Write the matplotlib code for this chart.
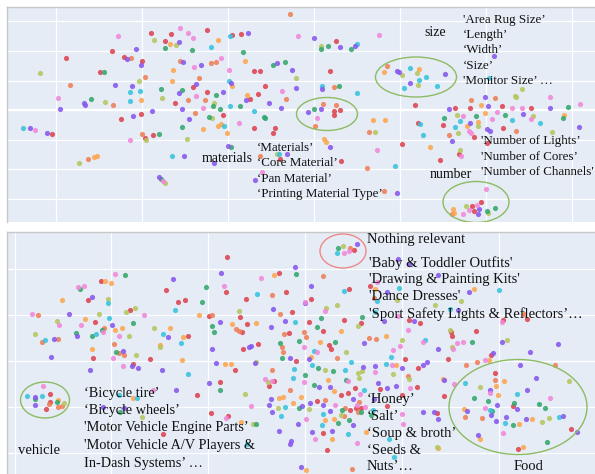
import matplotlib.pyplot as plt
from matplotlib.patches import Ellipse
from matplotlib.ticker import MultipleLocator

# embedding coordinates, one list per colour group

# ---- upper panel ----
top_red = [(9, 77), (29, 76), (65, 80), (23, 69), (90, 75), (99, 76), (-30, 59), (-76, 52), (-18, 53), (0, 49),
           (-42, 38), (112, 39), (118, 39), (51, 23), (65, 18), (123, 24), (116, 16), (33, 7), (108, 11), (-1, -4),
           (-21, -9), (81, -5), (-90, -24), (112, -18), (133, -18), (131, -23), (3, -28), (11, -25), (138, -49),
           (194, 69), (188, 39), (273, 5), (276, -13), (192, -1), (192, -5), (198, 0), (260, -34), (199, -51),
           (389, 2), (360, 4), (328, 2), (313, 2), (301, -15), (361, -18), (332, -27), (345, -33), (317, -44),
           (298, -50), (330, -96), (332, -101), (339, -92)]
top_coral = [(148, 96), (-11, 52), (38, 49), (74, 48), (69, 47), (3, 33), (57, 32), (-72, 25), (-29, 5), (46, 10),
             (63, 10), (144, 11), (53, -3), (0, -24), (-54, -49), (118, -46), (192, 23), (245, 44), (181, 6),
             (194, 5), (173, -16), (227, -22), (225, -58), (242, -81), (353, 12), (329, 10), (374, -21),
             (307, -25), (310, -104)]
top_orange = [(28, 66), (76, 70), (103, 49), (31, 40), (30, 29), (90, 24), (-1, 10), (105, 15), (61, -19), (76, -16),
              (79, -14), (85, -23), (-48, -47), (-45, -46), (242, 38), (277, 41), (231, -10), (243, -10), (182, -29),
              (184, -32), (288, -37), (339, 5), (343, -3), (422, -5), (336, -12), (325, -16), (311, -99), (312, -103)]
top_olive = [(12, 70), (34, 65), (-102, 37), (154, 32), (-3, 29), (-37, 8), (20, 12), (72, 7), (70, -8), (4, -30),
             (45, -29), (-63, -53), (23, -73), (135, -44), (179, 64), (380, 21), (260, 35), (275, 37), (276, 25),
             (233, -22), (373, 14), (374, 13), (315, -5), (391, -6), (336, -16), (410, -22), (316, -23), (318, -40),
             (324, -96), (346, -103)]
top_green = [(23, 62), (50, 60), (101, 58), (-38, 38), (131, 45), (143, 48), (19, 21), (40, 20), (74, 15), (-51, 11),
             (71, 4), (78, 1), (98, 4), (67, -7), (122, -7), (123, -8), (40, -17), (17, -24), (89, -37), (19, -69),
             (179, 61), (186, 64), (209, 61), (197, 24), (172, 1), (426, 3), (302, -8), (334, -6), (363, -5),
             (421, -8), (345, -101), (353, -98)]
top_cyan = [(88, 74), (69, 63), (87, 29), (-12, 18), (-2, 19), (-12, 9), (88, 4), (112, -1), (-119, -18), (82, -16),
            (30, -46), (137, -44), (215, 66), (180, 24), (215, 17), (347, 32), (268, 42), (277, 30), (284, 33),
            (262, 22), (295, 24), (278, -14), (281, -25), (253, -56), (370, -10), (398, -13), (318, -11), (313, -17)]
top_purple = [(37, 68), (106, 77), (-6, 61), (-15, 51), (-1, 45), (41, 48), (59, 45), (135, 47), (150, 40), (54, 26),
              (89, 27), (-27, 25), (-10, 24), (37, 17), (81, 18), (154, 22), (-58, 7), (-57, 5), (104, 10), (127, 7),
              (139, 2), (-82, 1), (10, -1), (40, 1), (-9, -6), (47, -9), (-112, -18), (-95, -23), (86, -36),
              (42, -46), (17, -67), (72, -53), (145, -44), (113, -70), (172, 72), (198, 63), (213, 64), (180, 21),
              (352, 54), (255, 39), (257, 38), (268, 27), (303, 36), (166, -2), (179, 1), (188, -37), (255, -83),
              (343, 13), (408, 2), (346, 4), (307, 1), (381, -4), (328, -13), (345, -19), (348, -21), (437, -17),
              (310, -31), (337, -99), (336, -104)]
top_pink = [(-24, 74), (38, 82), (46, 77), (51, 72), (79, 52), (52, 43), (87, 40), (140, 19), (-84, 12), (54, 14),
            (61, 2), (97, -13), (-107, -20), (-12, -30), (21, -71), (120, -62), (237, 75), (156, 74), (175, -8),
            (235, -40), (408, 13), (438, 6), (380, 2), (370, 2), (321, -6), (355, -2), (389, -9), (350, -9),
            (327, -21), (329, -23), (319, -46), (344, -79), (327, -100), (321, -104), (335, -95)]

# ---- lower panel ----
bot_red = [(-78, 104), (-204, 80), (-26, 88), (-217, 61), (-139, 71), (-79, 69), (-127, 59), (-120, 61), (-59, 62),
           (-19, 69), (-175, 51), (-96, 45), (-65, 44), (-58, 37), (-13, 49), (-210, 39), (-117, 25), (-63, 29),
           (-16, 28), (-9, 0), (-212, 3), (-155, 2), (-172, -3), (-62, 12), (-47, 17), (-70, -9), (-31, -20),
           (-36, -25), (-85, -21), (-108, -34), (-94, -52), (-77, -55), (-142, -73), (-255, -33), (-255, -41),
           (-259, -48), (49, 111), (44, 72), (6, 62), (4, 39), (39, 41), (56, 38), (18, 30), (24, 16), (26, 12),
           (65, 75), (104, 41), (115, 38), (198, 41), (222, 42), (146, 29), (147, 25), (171, 30), (186, 6),
           (143, 2), (190, -12), (139, -35), (208, -45), (266, -68), (213, -88), (36, -34), (43, -32), (50, -27),
           (12, -40), (51, -47), (56, -47), (45, -49), (18, -72), (22, -89), (100, 2), (75, -28), (112, -26),
           (113, -7), (132, -52), (97, -34), (82, -45)]
bot_coral = [(-33, 66), (-267, 46), (-93, 46), (-25, 47), (-263, 19), (-247, 22), (-201, 33), (-69, 32), (-66, 30),
             (-21, 27), (-23, 14), (-22, 9), (-191, 17), (-186, 8), (-181, 6), (-33, -9), (-15, -29), (-256, -43),
             (-247, -46), (-243, -45), (45, 113), (18, 85), (-1, 29), (1, 24), (64, 23), (71, 22), (69, 63),
             (219, 47), (172, -1), (161, -4), (250, -4), (190, -19), (160, -56), (177, -57), (32, 3), (20, -39),
             (54, -41), (53, -51), (40, -47), (39, -55), (47, -108), (103, -15)]
bot_orange = [(-200, 80), (-194, 78), (-31, 86), (-243, 61), (-106, 46), (-73, 37), (-49, 38), (-220, 42),
              (-190, 31), (-183, 33), (-135, 33), (-122, 24), (-145, 16), (-213, 12), (-123, 1), (-80, -3), (-74, -3),
              (-26, -37), (-22, -36), (-12, -42), (-64, -61), (-172, -37), (-247, -39), (36, 30), (15, 19), (81, 25),
              (70, 72), (169, 72), (184, 1), (138, -18), (199, -20), (191, -25), (193, -34), (159, -48), (227, -58),
              (214, -63), (175, -78), (218, -86), (6, 4), (23, -19), (29, -30), (-4, -36), (29, -58), (20, -59),
              (61, -71), (27, -78), (91, -4), (1, -109), (133, -87)]
bot_olive = [(-197, 62), (-206, 47), (-179, 49), (-170, 53), (-66, 50), (-248, 40), (-270, 27), (-176, 25),
             (-151, 33), (-145, 14), (-169, 6), (-49, -1), (-37, -21), (-60, -33), (-27, -47), (-52, -63),
             (-163, -56), (-241, -42), (38, 115), (32, 56), (21, 53), (53, 35), (41, 9), (97, 21), (92, 61),
             (130, 56), (156, 60), (145, 31), (147, 14), (202, 21), (264, -20), (175, -26), (244, -57), (237, -61),
             (20, -9), (57, -10), (53, -12), (54, -17), (4, -48), (36, -54), (88, -13), (104, -18), (132, -86)]
bot_green = [(-180, 86), (-9, 87), (-225, 72), (-99, 74), (-103, 59), (-229, 28), (-213, 25), (-203, 31),
             (-172, 38), (-93, 35), (-91, 29), (-6, 20), (-25, 18), (-23, 3), (-189, 9), (-85, -29), (-6, -47),
             (-49, -63), (-185, -51), (-270, -38), (-248, -41), (33, 113), (16, 43), (12, 34), (30, 19), (57, 44),
             (167, 19), (169, -37), (183, -40), (234, -43), (209, -42), (240, -47), (187, -50), (208, -64),
             (242, -81), (13, -7), (0, -14), (28, -10), (41, -19), (9, -24), (56, -51), (37, -49), (44, -59),
             (33, -62), (66, -54)]
bot_cyan = [(-197, 58), (-48, 67), (-196, 43), (-130, 51), (-10, 39), (-260, 21), (-209, 27), (-142, 27),
            (-124, 18), (-117, -13), (-11, -8), (-12, -17), (-20, -46), (-24, -55), (-58, -83), (-186, -34),
            (-168, -37), (-278, -35), (-263, -35), (32, 108), (39, 70), (9, 10), (120, 21), (94, 73), (72, 60),
            (70, 49), (194, 71), (145, 52), (160, -22), (212, -33), (185, -49), (254, -56), (200, -62), (7, -4),
            (40, -9), (46, -1), (59, -29), (18, -53), (17, -64), (43, -73), (89, -96), (84, -78), (81, -3), (86, 4),
            (68, -49)]
bot_purple = [(-132, 82), (-84, 88), (-10, 94), (-213, 64), (-236, 47), (-85, 39), (-32, 52), (-20, 40), (-251, 22),
              (-228, 25), (-193, 36), (-137, 24), (-34, 34), (-15, 3), (-254, 4), (-182, 10), (-173, -5), (-167, -7),
              (-215, -9), (-143, -9), (-93, 12), (-56, 14), (-54, 15), (-89, -2), (-50, -2), (-96, -22), (-129, -29),
              (-34, -38), (-36, -44), (-33, -51), (-26, -70), (-7, -63), (-14, -80), (-15, -83), (-202, -46),
              (-181, -47), (-270, -36), (-270, -44), (52, 117), (6, 75), (0, 58), (59, 18), (133, 12), (93, 102),
              (104, 97), (82, 69), (79, 40), (109, 40), (133, 86), (164, 69), (153, 51), (197, 19), (253, 17),
              (225, 9), (188, 8), (215, -4), (139, -19), (231, -17), (185, -29), (222, -29), (212, -48), (192, -44),
              (162, -50), (186, -54), (201, -56), (221, -58), (258, -55), (191, -60), (272, -71), (173, -74), (4, 2),
              (58, -6), (14, -26), (25, -26), (48, -38), (18, -44), (25, -50), (5, -42), (-3, -45), (27, -70),
              (7, -71), (48, -64), (-4, -106), (70, -5), (82, -27), (97, -7), (73, -22), (91, -25), (118, -4),
              (122, -1), (118, -51), (129, -51), (133, -58), (69, -38)]
bot_pink = [(-190, 87), (-44, 83), (-227, 74), (-221, 75), (-81, 75), (-273, 47), (-161, 46), (-246, 36), (-224, 36),
            (-202, 29), (-186, 25), (-192, 3), (-182, -5), (-40, -18), (-33, -20), (-152, -29), (-54, -45),
            (-79, -57), (-262, -25), (44, 110), (39, 108), (0, 59), (20, 50), (-1, 14), (12, 9), (95, 15), (88, 11),
            (118, 19), (103, 31), (72, 79), (93, 45), (197, 39), (158, 19), (152, 18), (148, 12), (180, 1),
            (149, -23), (185, -32), (245, -37), (180, -47), (198, -72), (43, -20), (-1, -21), (55, -33), (52, -44),
            (60, -46), (30, -44), (1, -58), (10, -78), (52, -82), (70, -11), (87, -4), (105, -27), (98, -63),
            (97, -53)]

colors = {'red': '#DD4450', 'coral': '#EF7F55', 'orange': '#FCA64E', 'olive': '#B6C65E',
          'green': '#33A86C', 'cyan': '#36C2DC', 'purple': '#8757EE', 'pink': '#F287DA'}

top_groups = {'red': top_red, 'coral': top_coral, 'orange': top_orange, 'olive': top_olive,
              'green': top_green, 'cyan': top_cyan, 'purple': top_purple, 'pink': top_pink}
bot_groups = {'red': bot_red, 'coral': bot_coral, 'orange': bot_orange, 'olive': bot_olive,
              'green': bot_green, 'cyan': bot_cyan, 'purple': bot_purple, 'pink': bot_pink}

# annotations: (lines, x, first y, step, font size)
top_notes = [
    (['size'], 282, 78, 0, 10),
    (["'Area Rug Size\u2019", '\u2018Length\u2019', '\u2018Width\u2019', '\u2018Size\u2019',
      "'Monitor Size\u2019 \u2026"], 321, 90, 15.2, 9.4),
    (['materials'], 60, -48, 0, 10),
    (['\u2018Materials\u2019', '\u2018Core Material\u2019', '\u2018Pan Material\u2019',
      '\u2018Printing Material Type\u2019'], 115, -38, 15.3, 9.4),
    (['number'], 288, -64, 0, 10),
    (["'Number of Lights\u2019", "'Number of Cores\u2019", "'Number of Channels'"], 339, -31, 15.5, 9.4),
]
bot_notes = [
    (['Nothing relevant'], 62, 122, 0, 10.5),
    (["'Baby & Toddler Outfits'", "'Drawing & Painting Kits'", "'Dance Dresses'",
      "'Sport Safety Lights & Reflectors\u2019\u2026"], 64, 98, 17, 10.5),
    (['\u2018Honey\u2019', '\u2018Salt\u2019', '\u2018Soup & broth\u2019', '\u2018Seeds &', 'Nuts\u2019\u2026'],
     62, -38, 17, 10.5),
    (['Food'], 209, -105, 0, 10.5),
    (['\u2018Bicycle tire\u2019', '\u2018Bicycle wheels\u2019', "'Motor Vehicle Engine Parts\u2019",
      "'Motor Vehicle A/V Players &", 'In-Dash Systems\u2019 \u2026'], -221, -32, 17.5, 10.3),
    (['vehicle'], -287, -90, 0, 10.5),
]

# cluster outlines: centre, width, height, colour
top_rings = [((274, 33), 81, 40, '#8DBB62'), ((185, -4), 61, 33, '#8DBB62'), ((334, -92), 66, 41, '#8DBB62')]
bot_rings = [((38, 110), 46, 34, '#EE8A86'), ((-260, -39), 49, 36, '#8DBB62'), ((213, -46), 138, 95, '#8DBB62')]


def setup(ax, xlim, ylim, xstep, ystep):
    ax.set_facecolor('#E5ECF6')
    ax.set_xlim(*xlim)
    ax.set_ylim(*ylim)
    ax.xaxis.set_major_locator(MultipleLocator(xstep))
    ax.yaxis.set_major_locator(MultipleLocator(ystep))
    ax.grid(True, color='white', lw=0.9)
    ax.set_axisbelow(True)
    ax.tick_params(length=0, labelbottom=False, labelleft=False)
    for side in ['bottom', 'right']:
        ax.spines[side].set_visible(False)
    for side in ['top', 'left']:
        ax.spines[side].set_color('#C8C8C8')
        ax.spines[side].set_linewidth(1.0)


def draw(ax, groups, notes, rings):
    for name, pts in groups.items():
        xs = [p[0] for p in pts]
        ys = [p[1] for p in pts]
        ax.scatter(xs, ys, s=14, color=colors[name], alpha=0.88, linewidths=0, zorder=3)
    for (cx, cy), w, h, c in rings:
        ax.add_patch(Ellipse((cx, cy), w, h, fill=False, ec=c, lw=1.0, zorder=4))
    for lines, x, y0, step, fsize in notes:
        for i, line in enumerate(lines):
            ax.text(x, y0 - i * step, line, fontsize=fsize, family='Liberation Serif',
                    color='#111111', va='center', ha='left', zorder=5)


fig = plt.figure(figsize=(5.95, 4.74), dpi=100)

ax1 = fig.add_axes([7 / 595, 1 - 222 / 474, 588 / 595, 215 / 474])
setup(ax1, (-135, 453), (-112, 103), 86, 29.5)
ax1.axhline(0, color='white', lw=1.6, zorder=1)
draw(ax1, top_groups, top_notes, top_rings)

ax2 = fig.add_axes([7 / 595, 0, 588 / 595, 242 / 474])
setup(ax2, (-298, 290), (-113, 129), 96.8, 46)
draw(ax2, bot_groups, bot_notes, bot_rings)

fig.savefig('out.png', dpi=100)
